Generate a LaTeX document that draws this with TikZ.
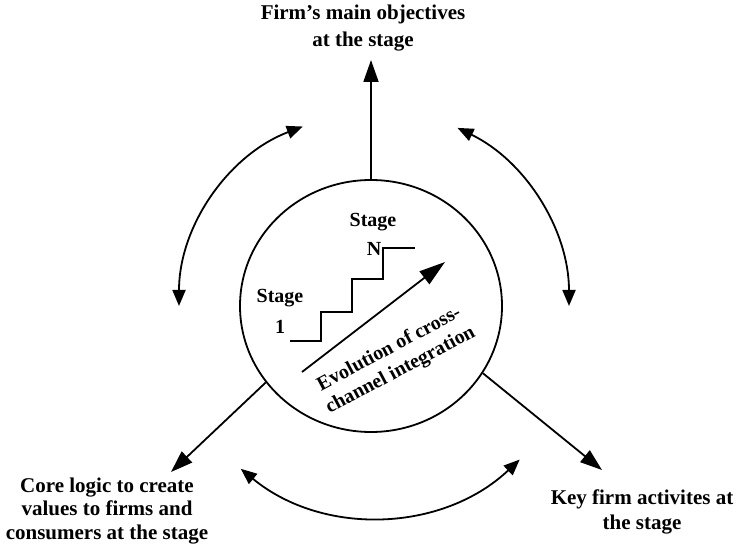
\documentclass[tikz,border=0pt]{standalone}
\usepackage{fontspec}
\setmainfont{Liberation Serif}
\usetikzlibrary{arrows.meta,shapes.geometric,calc}

\begin{document}
\begin{tikzpicture}[x=1pt,y=1pt,
  line width=1.8pt,
  lbl/.style={font=\bfseries\fontsize{21}{27}\selectfont, align=center, inner sep=0pt},
  lblB/.style={font=\bfseries\fontsize{21}{23.5}\selectfont, align=center, inner sep=0pt},
  lblC/.style={font=\bfseries\fontsize{21}{25}\selectfont, align=center, inner sep=0pt},
  inlbl/.style={font=\bfseries\fontsize{20}{24}\selectfont, align=center, inner sep=0pt},
  bigtip/.style={-{Triangle[length=22pt,width=15pt]}},
  evotip/.style={-{Triangle[length=26pt,width=16pt]}},
  dbl/.style={{Triangle[length=16pt,width=13pt]}-{Triangle[length=16pt,width=13pt]}},
]
\useasboundingbox (0,0) rectangle (739,552);

% central stage circle
\node[ellipse, draw, minimum width=262pt, minimum height=252pt, inner sep=0pt] (hub) at (371,246) {};
\coordinate (ctr) at (371,246);
\coordinate (ctrB) at (375,246);

% outer labels
\node[lbl]  (obj)   at (363,524) {Firm’s main objectives\\at the stage};
\node[lblB] (logic) at (107,41)  {Core logic to create\\values to firms and\\consumers at the stage};
\node[lblC] (acts)  at (642,40)  {Key firm activites at\\the stage};

% arrows from the circle to the labels
\coordinate (objtip) at (371,492);
\coordinate (lltip)  at (171,80);
\coordinate (lrtip)  at (602,82);
\draw[bigtip] (hub.north) -- (objtip);
\draw[bigtip] (hub.216) -- (lltip);
\draw[bigtip] (hub.-31) -- (lrtip);

% double-headed arcs between the labels
\draw[dbl] ($(ctr)+(110.8:192)$) arc[start angle=110.8, end angle=180, radius=192];
\draw[dbl] ($(ctr)+(64.1:198)$) arc[start angle=64.1, end angle=0, radius=198];
\draw[dbl] ($(ctrB)+(230.5:211)$) arc[start angle=230.5, end angle=313.3, radius=211];

% staircase of stages
\draw (290,211) -| (321,240) -| (352,273) -| (383,304) -- (415,304);
\node[inlbl] (s1)  at (280,254) {Stage};
\node[inlbl] (one) at (280,225) {1};
\node[inlbl] (sN)  at (373,330) {Stage};
\node[inlbl] (nN)  at (374,303) {N};

% evolution arrow
\coordinate (evoA) at (302,180);
\coordinate (evoB) at (445,290);
\draw[evotip] (evoA) -- (evoB);
\node[inlbl, rotate=28] (evo) at (395,192) {Evolution of cross-\\channel integration};
\end{tikzpicture}
\end{document}
